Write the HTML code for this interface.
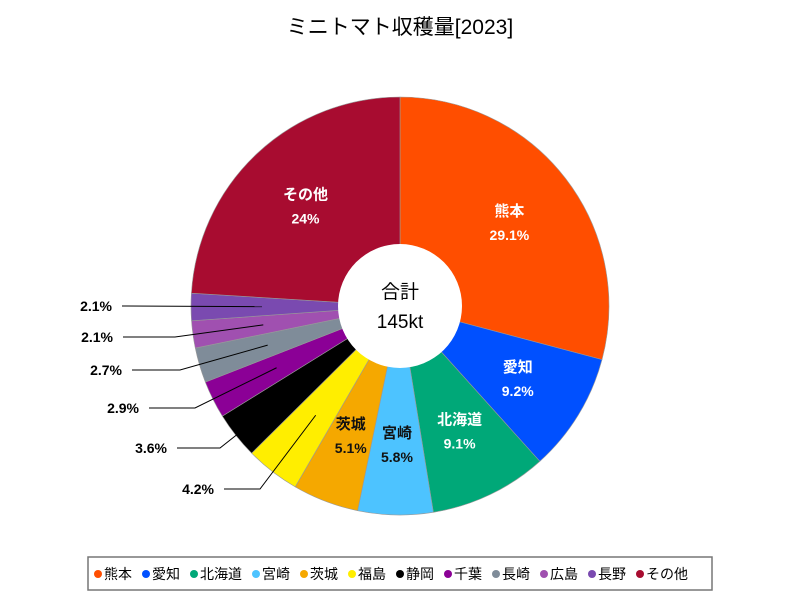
<!DOCTYPE html>
<html><head><meta charset="utf-8"><style>
body{margin:0;background:#fff;width:800px;height:600px;overflow:hidden;font-family:"Liberation Sans","Noto Sans CJK JP",sans-serif}
</style></head><body>
<svg id="chart" width="800" height="600" xmlns="http://www.w3.org/2000/svg" font-family="Liberation Sans, Noto Sans CJK JP, sans-serif">
<text x="400" y="34" text-anchor="middle" font-size="21">ミニトマト収穫量[2023]</text>
<g id="slices"></g><g id="labels"></g>
<circle cx="400" cy="306" r="62" fill="#fff"/>
<text x="400" y="298" text-anchor="middle" font-size="19">合計</text>
<text x="400" y="328" text-anchor="middle" font-size="19">145kt</text>
<rect x="88" y="557" width="624" height="33" fill="#fff" stroke="#777" stroke-width="1.5"/>
<g id="legend"></g>
</svg>
<script>
const categories=["熊本","愛知","北海道","宮崎","茨城","福島","静岡","千葉","長崎","広島","長野","その他"];
const values=[29.1,9.2,9.1,5.8,5.1,4.2,3.6,2.9,2.7,2.1,2.1,24];
const valueLabels=["29.1%","9.2%","9.1%","5.8%","5.1%","4.2%","3.6%","2.9%","2.7%","2.1%","2.1%","24%"];
const colors=["#ff4e00","#0050ff","#00a878","#4dc3ff","#f5a800","#ffee00","#000000","#8b0096","#7f8c99","#a050b0","#7a4ab0","#a80c30"];
const NS="http://www.w3.org/2000/svg",cx=400,cy=306,R=209,LR=138;
const total=values.reduce((a,b)=>a+b,0);
function pt(a,r){return [cx+r*Math.sin(a),cy-r*Math.cos(a)];}
function mk(tag,attrs,parent){const e=document.createElementNS(NS,tag);for(const k in attrs)e.setAttribute(k,attrs[k]);parent.appendChild(e);return e;}
const sl=document.getElementById('slices'),lb=document.getElementById('labels'),lg=document.getElementById('legend');
// outside-label layout: [textY, elbowX, textRightX] in draw order for small slices
const outside={"福島":[489,260,214],"静岡":[448,220,167],"千葉":[408,195,139],"長崎":[370,180,122],"広島":[337,175,113],"長野":[306,122,112]};
const dark={"宮崎":1,"茨城":1,"福島":1};
let cum=0;
values.forEach((v,i)=>{
  const a0=cum/total*2*Math.PI;cum+=v;const a1=cum/total*2*Math.PI;
  const [x0,y0]=pt(a0,R),[x1,y1]=pt(a1,R);
  const p=mk('path',{d:`M${cx},${cy}L${x0},${y0}A${R},${R} 0 ${a1-a0>Math.PI?1:0} 1 ${x1},${y1}Z`,fill:colors[i],stroke:'#999','stroke-width':0.6},sl);
  
  
  const am=(a0+a1)/2;const [lx,ly]=pt(am,LR);
  const cat=categories[i];
  if(outside[cat]){
    const [ty,ex,tx]=outside[cat];
    const l=mk('polyline',{points:`${tx+10},${ty} ${ex},${ty} ${lx},${ly}`,fill:'none',stroke:'#000','stroke-width':1},lb);
    
    
    const t=mk('text',{x:tx,y:ty+5,'text-anchor':'end','font-size':14,'font-weight':'bold'},lb);t.textContent=valueLabels[i];
    
    
  }else{
    const fill=dark[cat]?'#111':'#fff';
    const t1=mk('text',{x:lx,y:ly-6,'text-anchor':'middle','font-size':15,'font-weight':'bold',fill:fill},lb);t1.textContent=cat;
    
    
    const t2=mk('text',{x:lx,y:ly+18,'text-anchor':'middle','font-size':14,'font-weight':'bold',fill:fill},lb);t2.textContent=valueLabels[i];
    
    
  }
});
// legend
let x=94;
categories.forEach((c,i)=>{
  const g=mk('g',{},lg);
  
  
  mk('circle',{cx:x+4,cy:574,r:4,fill:colors[i]},g);
  const t=mk('text',{x:x+10,y:579,'font-size':14},g);t.textContent=c;
  x+=10+c.length*14+10;
});
</script>
</body></html>
